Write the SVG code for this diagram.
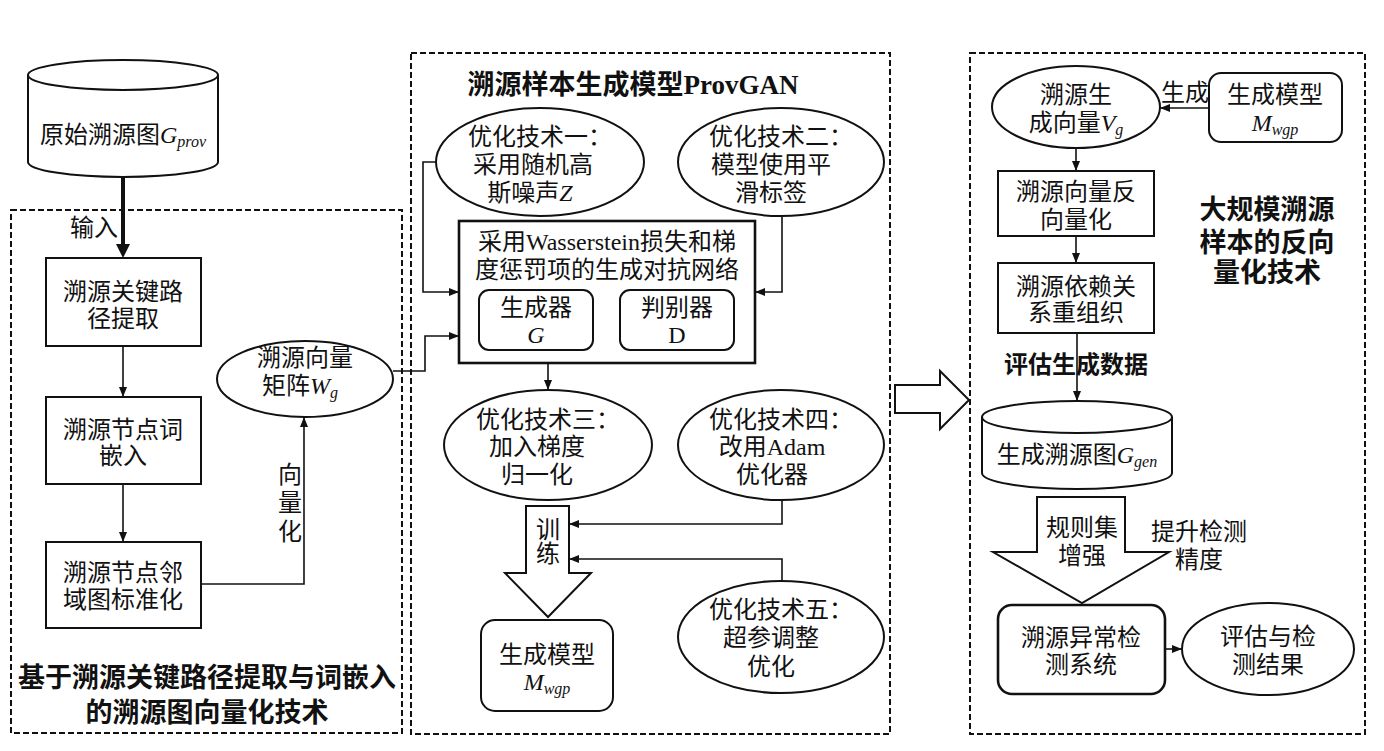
<svg xmlns="http://www.w3.org/2000/svg" width="1384" height="751" viewBox="0 0 1384 751">
<style>
.t{font-family:"Liberation Serif","Noto Sans CJK SC",serif;font-size:24px;fill:#111;text-anchor:middle;dominant-baseline:central}
.b{font-family:"Liberation Serif","Noto Sans CJK SC",serif;font-weight:700;fill:#111;text-anchor:middle;dominant-baseline:central}
.i{font-style:italic}
.s{font-size:16px;font-style:italic}
.shape{fill:#fff;stroke:#111;stroke-width:2}
.panel{fill:none;stroke:#111;stroke-width:2;stroke-dasharray:6 3}
.ln{fill:none;stroke:#111;stroke-width:1.6}
</style>
<defs>
<marker id="ah" viewBox="0 0 10 8" refX="10" refY="4" markerWidth="10" markerHeight="8" markerUnits="userSpaceOnUse" orient="auto-start-reverse">
<path d="M0,0 L10,4 L0,8 z" fill="#111"/>
</marker>
</defs>
<rect width="1384" height="751" fill="#fff"/>

<g id="panels">
<rect class="panel" x="11" y="210" width="391" height="523"/>
<rect class="panel" x="411" y="53" width="479" height="681"/>
<rect class="panel" x="970" y="53" width="395" height="681"/>
</g>

<g id="connectors">
<line x1="123" y1="177" x2="123" y2="245" stroke="#111" stroke-width="4"/>
<polygon points="116,244 130,244 123,258" fill="#111"/>
<line class="ln" x1="123" y1="346" x2="123" y2="397" marker-end="url(#ah)"/>
<line class="ln" x1="123" y1="484" x2="123" y2="542" marker-end="url(#ah)"/>
<polyline class="ln" points="201,584 304,584 304,417" marker-end="url(#ah)"/>
<polyline class="ln" points="393,371 425,371 425,336 459,336" marker-end="url(#ah)"/>
<polyline class="ln" points="436,162 423,162 423,292 459,292" marker-end="url(#ah)"/>
<polyline class="ln" points="782,217 782,292 755,292" marker-end="url(#ah)"/>
<line class="ln" x1="594" y1="320" x2="619" y2="320" stroke-width="2.2" marker-start="url(#ah)" marker-end="url(#ah)"/>
<line class="ln" x1="548" y1="363" x2="548" y2="390" marker-end="url(#ah)"/>
<polyline class="ln" points="782,500 782,524 569,524" marker-end="url(#ah)"/>
<polyline class="ln" points="782,581 782,559 569,559" marker-end="url(#ah)"/>
<line class="ln" x1="1209" y1="108" x2="1160" y2="108" marker-end="url(#ah)"/>
<line class="ln" x1="1076" y1="148" x2="1076" y2="171" marker-end="url(#ah)"/>
<line class="ln" x1="1076" y1="236" x2="1076" y2="263" marker-end="url(#ah)"/>
<line class="ln" x1="1077" y1="333" x2="1077" y2="401" marker-end="url(#ah)"/>
<line class="ln" x1="1165" y1="649" x2="1182" y2="649" marker-end="url(#ah)"/>
</g>

<g id="n-gprov">
<path class="shape" d="M28,75 A95,15 0 0 1 218,75 L218,162 A95,15 0 0 1 28,162 Z"/>
<path class="shape" fill="none" d="M28,75 A95,15 0 0 0 218,75"/>
<text class="t" x="123" y="135">原始溯源图<tspan class="i">G</tspan><tspan class="s" dy="6">prov</tspan></text>
</g>
<text class="t" x="94" y="228">输入</text>

<g id="n-extract">
<rect class="shape" x="46" y="258" width="155" height="88"/>
<text class="t" x="123" y="292">溯源关键路</text>
<text class="t" x="123" y="319">径提取</text>
</g>
<g id="n-embed">
<rect class="shape" x="46" y="397" width="155" height="87"/>
<text class="t" x="123" y="430">溯源节点词</text>
<text class="t" x="123" y="456">嵌入</text>
</g>
<g id="n-norm">
<rect class="shape" x="46" y="542" width="155" height="86"/>
<text class="t" x="123" y="573">溯源节点邻</text>
<text class="t" x="123" y="600">域图标准化</text>
</g>
<text class="t" x="290" y="475">向</text>
<text class="t" x="290" y="503">量</text>
<text class="t" x="290" y="532">化</text>
<g id="n-wg">
<ellipse class="shape" cx="305" cy="379" rx="88" ry="38"/>
<text class="t" x="305" y="358">溯源向量</text>
<text class="t" x="300" y="386">矩阵<tspan class="i">W</tspan><tspan class="s" dy="6">g</tspan></text>
</g>
<text class="b" x="207" y="678" font-size="27">基于溯源关键路径提取与词嵌入</text>
<text class="b" x="207" y="713" font-size="27">的溯源图向量化技术</text>

<text class="b" x="633" y="85" font-size="27">溯源样本生成模型ProvGAN</text>
<g id="n-opt1">
<ellipse class="shape" cx="540" cy="162" rx="104" ry="54"/>
<text class="t" x="540" y="137">优化技术一：</text>
<text class="t" x="533" y="165">采用随机高</text>
<text class="t" x="530" y="193">斯噪声<tspan class="i">Z</tspan></text>
</g>
<g id="n-opt2">
<ellipse class="shape" cx="781" cy="162" rx="103" ry="54"/>
<text class="t" x="781" y="137">优化技术二：</text>
<text class="t" x="771" y="165">模型使用平</text>
<text class="t" x="771" y="193">滑标签</text>
</g>
<g id="n-wgan">
<rect x="459" y="221" width="296" height="142" fill="#fff" stroke="#111" stroke-width="2.6"/>
<text class="t" x="607" y="242">采用Wasserstein损失和梯</text>
<text class="t" x="607" y="270">度惩罚项的生成对抗网络</text>
</g>
<g id="n-gen">
<rect class="shape" x="479" y="290" width="114" height="60" rx="10"/>
<text class="t" x="536" y="308">生成器</text>
<text class="t i" x="536" y="335">G</text>
</g>
<g id="n-disc">
<rect class="shape" x="620" y="290" width="114" height="60" rx="10"/>
<text class="t" x="677" y="308">判别器</text>
<text class="t" x="677" y="335">D</text>
</g>
<g id="n-opt3">
<ellipse class="shape" cx="548" cy="445" rx="104" ry="55"/>
<text class="t" x="548" y="420">优化技术三：</text>
<text class="t" x="537" y="447">加入梯度</text>
<text class="t" x="537" y="475">归一化</text>
</g>
<g id="n-opt4">
<ellipse class="shape" cx="781" cy="445" rx="103" ry="55"/>
<text class="t" x="781" y="420">优化技术四：</text>
<text class="t" x="772" y="447">改用Adam</text>
<text class="t" x="772" y="475">优化器</text>
</g>
<g id="n-train">
<polygon class="shape" points="526,506 569,506 569,573 591,573 548,617 505,573 526,573"/>
<text class="t" x="548" y="530">训</text>
<text class="t" x="548" y="554">练</text>
</g>
<g id="n-opt5">
<ellipse class="shape" cx="781" cy="637" rx="103" ry="56"/>
<text class="t" x="781" y="610">优化技术五：</text>
<text class="t" x="771" y="638">超参调整</text>
<text class="t" x="771" y="667">优化</text>
</g>
<g id="n-model1">
<rect class="shape" x="481" y="620" width="132" height="91" rx="14"/>
<text class="t" x="547" y="655">生成模型</text>
<text class="t" x="547" y="682"><tspan class="i">M</tspan><tspan class="s" dy="6">wgp</tspan></text>
</g>

<g id="n-bigarrow">
<polygon class="shape" points="895,385 940,385 940,371 969,400 940,429 940,413 895,413"/>
</g>

<g id="n-vg">
<ellipse class="shape" cx="1076" cy="107" rx="84" ry="41"/>
<text class="t" x="1076" y="95">溯源生</text>
<text class="t" x="1076" y="123">成向量<tspan class="i">V</tspan><tspan class="s" dy="6">g</tspan></text>
</g>
<g id="n-model2">
<rect class="shape" x="1209" y="73" width="133" height="69" rx="12"/>
<text class="t" x="1275" y="95">生成模型</text>
<text class="t" x="1275" y="123"><tspan class="i">M</tspan><tspan class="s" dy="6">wgp</tspan></text>
</g>
<text class="t" x="1185" y="93">生成</text>
<g id="n-devec">
<rect class="shape" x="998" y="171" width="156" height="65"/>
<text class="t" x="1076" y="192">溯源向量反</text>
<text class="t" x="1076" y="220">向量化</text>
</g>
<g id="n-reorg">
<rect class="shape" x="998" y="263" width="156" height="70"/>
<text class="t" x="1076" y="287">溯源依赖关</text>
<text class="t" x="1076" y="313">系重组织</text>
</g>
<text class="b" x="1076" y="365" font-size="24">评估生成数据</text>
<text class="b" x="1267" y="210" font-size="27">大规模溯源</text>
<text class="b" x="1267" y="243" font-size="27">样本的反向</text>
<text class="b" x="1267" y="273" font-size="27">量化技术</text>
<g id="n-ggen">
<path class="shape" d="M982,417 A95,16 0 0 1 1172,417 L1172,473 A95,16 0 0 1 982,473 Z"/>
<path class="shape" fill="none" d="M982,417 A95,16 0 0 0 1172,417"/>
<text class="t" x="1077" y="455">生成溯源图<tspan class="i">G</tspan><tspan class="s" dy="6">gen</tspan></text>
</g>
<g id="n-rules">
<polygon class="shape" points="1037,497 1125,497 1125,552 1169,552 1082,603 993,552 1037,552"/>
<text class="t" x="1082" y="528">规则集</text>
<text class="t" x="1082" y="556">增强</text>
</g>
<text class="t" x="1199" y="532">提升检测</text>
<text class="t" x="1199" y="560">精度</text>
<g id="n-detect">
<rect x="998" y="605" width="167" height="89" rx="14" fill="#fff" stroke="#111" stroke-width="2.6"/>
<text class="t" x="1081" y="638">溯源异常检</text>
<text class="t" x="1081" y="665">测系统</text>
</g>
<g id="n-result">
<ellipse class="shape" cx="1268" cy="649" rx="86" ry="46"/>
<text class="t" x="1268" y="637">评估与检</text>
<text class="t" x="1268" y="665">测结果</text>
</g>
</svg>
